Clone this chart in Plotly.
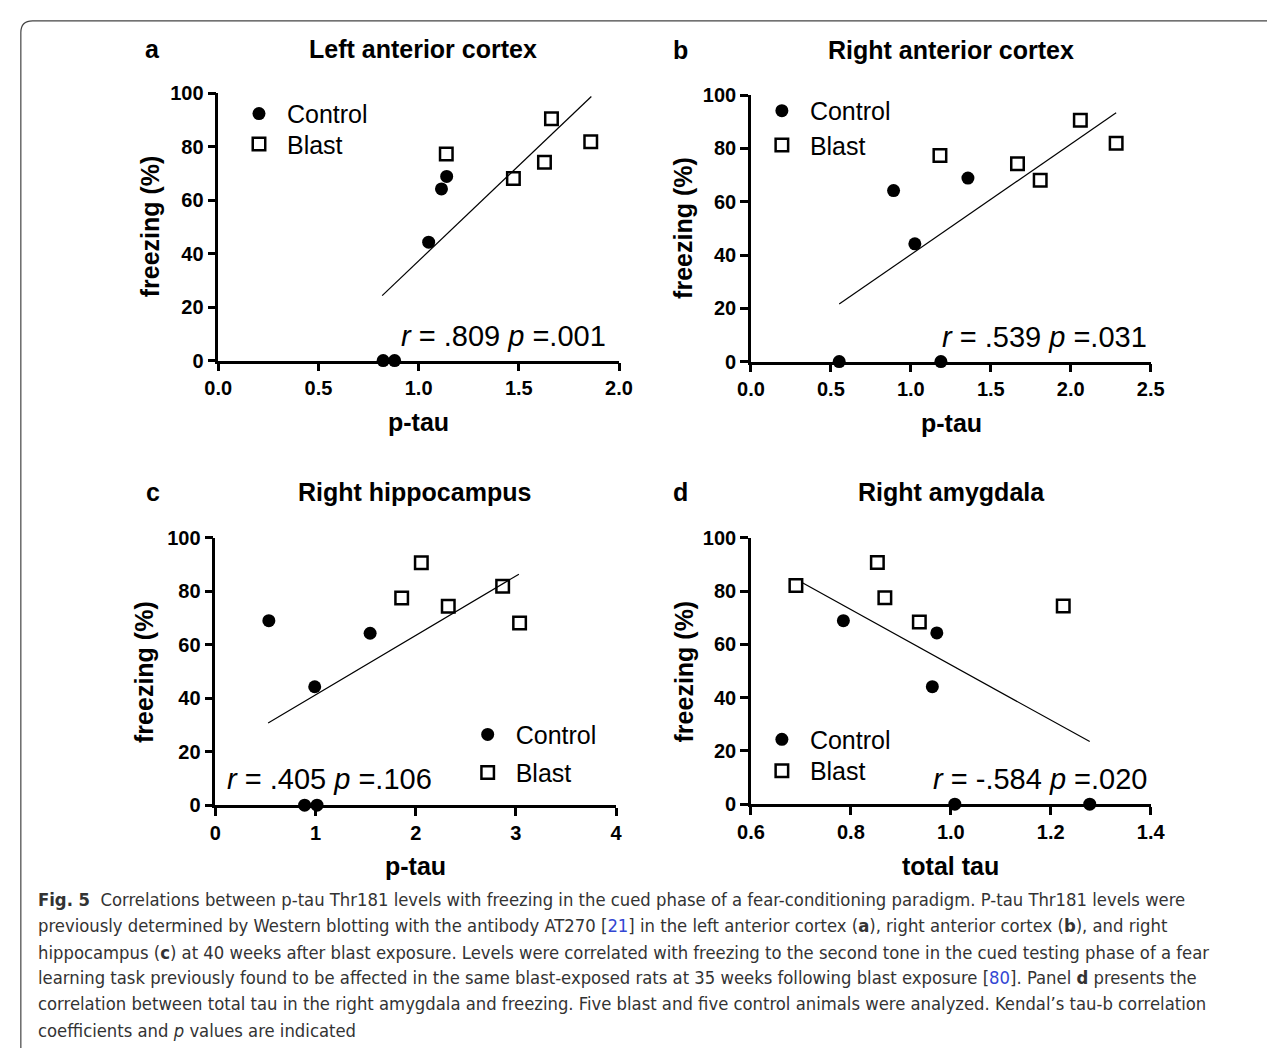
import plotly.graph_objects as go

W, H = 1282, 1059

# ---------------- data ----------------
titles = ["Left anterior cortex", "Right anterior cortex", "Right hippocampus", "Right amygdala"]
letters = ["a", "b", "c", "d"]
xlabels = ["p-tau", "p-tau", "p-tau", "total tau"]
ylabel = "freezing (%)"
group_names = ["Control", "Blast"]

ctrl_a_x = [1.05, 1.114, 1.14, 0.823, 0.88]
ctrl_a_y = [44.3, 64.2, 68.9, 0, 0]
blast_a_x = [1.138, 1.473, 1.628, 1.663, 1.859]
blast_a_y = [77.3, 68.1, 74.2, 90.5, 81.9]
fit_a_x = [0.818, 1.862]
fit_a_y = [24.3, 98.8]

ctrl_b_x = [0.892, 1.025, 1.357, 0.552, 1.188]
ctrl_b_y = [64.2, 44.2, 68.9, 0, 0]
blast_b_x = [1.182, 1.667, 1.809, 2.06, 2.284]
blast_b_y = [77.4, 74.3, 68.1, 90.6, 82.0]
fit_b_x = [0.552, 2.284]
fit_b_y = [21.6, 93.4]

ctrl_c_x = [0.534, 0.992, 1.545, 0.891, 1.015]
ctrl_c_y = [69.0, 44.3, 64.3, 0, 0]
blast_c_x = [1.86, 2.056, 2.325, 2.868, 3.037]
blast_c_y = [77.5, 90.7, 74.4, 81.9, 68.1]
fit_c_x = [0.527, 3.03]
fit_c_y = [30.7, 86.4]

ctrl_d_x = [0.785, 0.972, 0.963, 1.008, 1.278]
ctrl_d_y = [68.9, 64.3, 44.1, 0, 0]
blast_d_x = [0.690, 0.853, 0.868, 0.937, 1.225]
blast_d_y = [82.1, 90.7, 77.5, 68.4, 74.4]
fit_d_x = [0.703, 1.278]
fit_d_y = [83.1, 23.5]

stats = ["<i>r</i> = .809 <i>p</i> =.001", "<i>r</i> = .539 <i>p</i> =.031",
         "<i>r</i> = .405 <i>p</i> =.106", "<i>r</i> = -.584 <i>p</i> =.020"]

x_ranges = [[0, 2.0], [0, 2.5], [0, 4], [0.6, 1.4]]
x_dticks = [0.5, 0.5, 1, 0.2]
x_formats = [".1f", ".1f", "d", ".1f"]
y_range = [0, 100]

caption_lines = [
    "<b>Fig. 5</b>  Correlations between p-tau Thr181 levels with freezing in the cued phase of a fear-conditioning paradigm. P-tau Thr181 levels were",
    "previously determined by Western blotting with the antibody AT270 [<span style='color:#3346d3'>21</span>] in the left anterior cortex (<b>a</b>), right anterior cortex (<b>b</b>), and right",
    "hippocampus (<b>c</b>) at 40 weeks after blast exposure. Levels were correlated with freezing to the second tone in the cued testing phase of a fear",
    "learning task previously found to be affected in the same blast-exposed rats at 35 weeks following blast exposure [<span style='color:#3346d3'>80</span>]. Panel <b>d</b> presents the",
    "correlation between total tau in the right amygdala and freezing. Five blast and five control animals were analyzed. Kendal’s tau-b correlation",
    "coefficients and <i>p</i> values are indicated",
]

# ---------------- layout helpers ----------------
def fx(px):
    return px / W

def fy(py):
    return 1 - py / H

# pixel boxes of plot areas (x0, x1, ytop, ybottom)
boxes = [(209, 619, 84, 357), (754, 1163, 86, 358), (206, 616, 538, 811), (754, 1163, 538, 810)]

FONT = "Liberation Sans, Arial, sans-serif"
CAPFONT = "Liberation Sans Narrow, DejaVu Sans Condensed, Roboto, sans-serif"

fig = go.Figure()

data = [
    (ctrl_a_x, ctrl_a_y, blast_a_x, blast_a_y, fit_a_x, fit_a_y),
    (ctrl_b_x, ctrl_b_y, blast_b_x, blast_b_y, fit_b_x, fit_b_y),
    (ctrl_c_x, ctrl_c_y, blast_c_x, blast_c_y, fit_c_x, fit_c_y),
    (ctrl_d_x, ctrl_d_y, blast_d_x, blast_d_y, fit_d_x, fit_d_y),
]

def legname(k):
    return "legend" if k == 0 else f"legend{k+1}"

for i, (cx, cy, bx, by, lx, ly) in enumerate(data):
    xa = "x" if i == 0 else f"x{i+1}"
    ya = "y" if i == 0 else f"y{i+1}"
    fig.add_trace(go.Scatter(x=lx, y=ly, mode="lines", line=dict(color="black", width=1.2),
                             xaxis=xa, yaxis=ya, showlegend=False, hoverinfo="skip"))
    fig.add_trace(go.Scatter(x=cx, y=cy, mode="markers", name=group_names[0],
                             marker=dict(symbol="circle", size=13, color="black"),
                             xaxis=xa, yaxis=ya, legend=legname(2 * i), cliponaxis=False))
    fig.add_trace(go.Scatter(x=bx, y=by, mode="markers", name=group_names[1],
                             marker=dict(symbol="square-open", size=12.5, color="black",
                                         line=dict(width=2.5, color="black")),
                             xaxis=xa, yaxis=ya, legend=legname(2 * i + 1), cliponaxis=False))

layout = dict(
    width=W, height=H,
    margin=dict(l=0, r=0, t=0, b=0),
    paper_bgcolor="white", plot_bgcolor="white",
    font=dict(family=FONT, color="black"),
)

for i, (x0, x1, yt, yb) in enumerate(boxes):
    sx = "" if i == 0 else str(i + 1)
    layout["xaxis" + sx] = dict(
        domain=[fx(x0), fx(x1)], range=x_ranges[i], anchor="y" + sx,
        tickmode="linear", tick0=x_ranges[i][0], dtick=x_dticks[i], tickformat=x_formats[i],
        showgrid=False, zeroline=False, showline=True, linecolor="black", linewidth=2.5,
        ticks="outside", ticklen=8, tickwidth=2.5, tickcolor="black",
        tickfont=dict(family=FONT, size=20, weight="bold", color="black"),
        fixedrange=True,
    )
    layout["yaxis" + sx] = dict(
        domain=[fy(yb), fy(yt)], range=y_range, anchor="x" + sx,
        tickmode="linear", tick0=0, dtick=20,
        showgrid=False, zeroline=False, showline=True, linecolor="black", linewidth=2.5,
        ticks="outside", ticklen=8, tickwidth=2.5, tickcolor="black",
        tickfont=dict(family=FONT, size=20, weight="bold", color="black"),
        fixedrange=True,
    )

# legends: one per entry, (marker x, row y) in pixels
leg_rows = [(250, 105), (250, 136), (785, 102), (785, 137),
            (484, 739), (484, 778), (785, 744), (785, 776)]
for k, (mx, my) in enumerate(leg_rows):
    layout[legname(k)] = dict(
        x=fx(mx - 28), y=fy(my), xanchor="left", yanchor="middle",
        bgcolor="rgba(0,0,0,0)", font=dict(family=FONT, size=25, color="black"),
        itemwidth=46, borderwidth=0,
    )

fig.update_layout(**layout)

ann = []
# letters & titles
title_pos = [(418, 39), (959, 40), (410, 491), (959, 491)]
letter_pos = [(142, 39), (682, 40), (142, 491), (682, 491)]
for i in range(4):
    ann.append(dict(x=fx(title_pos[i][0]), y=fy(title_pos[i][1]), xref="paper", yref="paper",
                    text=titles[i], showarrow=False, xanchor="center", yanchor="middle",
                    font=dict(family=FONT, size=25, weight="bold", color="black")))
    ann.append(dict(x=fx(letter_pos[i][0]), y=fy(letter_pos[i][1]), xref="paper", yref="paper",
                    text=letters[i], showarrow=False, xanchor="center", yanchor="middle",
                    font=dict(family=FONT, size=25, weight="bold", color="black")))

# axis titles
xlab_pos = [(414, 420), (959, 421), (411, 873), (958, 873)]
ylab_pos = [(140, 220), (685, 222), (133, 675), (685, 675)]
for i in range(4):
    ann.append(dict(x=fx(xlab_pos[i][0]), y=fy(xlab_pos[i][1]), xref="paper", yref="paper",
                    text=xlabels[i], showarrow=False, xanchor="center", yanchor="middle",
                    font=dict(family=FONT, size=25, weight="bold", color="black")))
    ann.append(dict(x=fx(ylab_pos[i][0]), y=fy(ylab_pos[i][1]), xref="paper", yref="paper",
                    text=ylabel, showarrow=False, xanchor="center", yanchor="middle", textangle=-90,
                    font=dict(family=FONT, size=25, weight="bold", color="black")))

# statistics text
stat_pos = [(608, 332, "right"), (1161, 333, "right"), (216, 784, "left"), (1161, 784, "right")]
for i in range(4):
    px, py, anc = stat_pos[i]
    ann.append(dict(x=fx(px), y=fy(py), xref="paper", yref="paper", text=stats[i],
                    showarrow=False, xanchor=anc, yanchor="middle",
                    font=dict(family=FONT, size=29, color="black")))

# caption
cap_y = [907, 934, 961, 987, 1014, 1041]
for t, yy in zip(caption_lines, cap_y):
    ann.append(dict(x=fx(22), y=fy(yy), xref="paper", yref="paper", text=t, showarrow=False,
                    xanchor="left", yanchor="middle",
                    font=dict(family=CAPFONT, size=18.3, color="#333333")))

fig.update_layout(annotations=ann)

# rounded frame line (top-left corner)
fig.add_shape(type="path", xref="paper", yref="paper",
              path=f"M {fx(7)} {fy(1059)} L {fx(7)} {fy(22)} Q {fx(7)} {fy(10)} {fx(19)} {fy(10)} L {fx(1282)} {fy(10)}",
              line=dict(color="#444444", width=1.2))

fig.write_html("out.html")
